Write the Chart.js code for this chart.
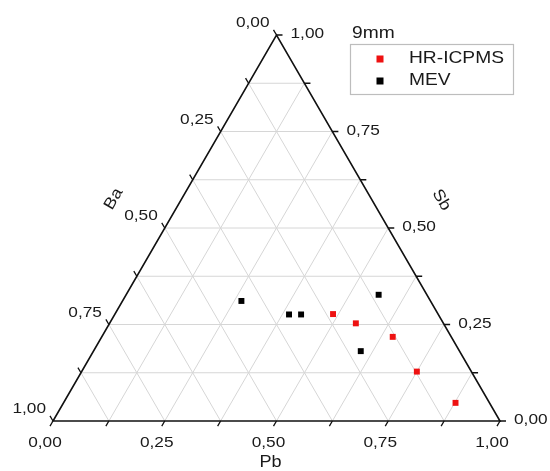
<!DOCTYPE html>
<html>
<head>
<meta charset="utf-8">
<script src="https://cdn.jsdelivr.net/npm/chart.js@4.4.0/dist/chart.umd.min.js"></script>
<style>
  html, body { margin: 0; padding: 0; background: #fff; }
  #wrap { width: 550px; height: 471px; }
</style>
</head>
<body>
<div id="wrap"><canvas id="ternary" width="550" height="471"></canvas></div>
<script>
// ternary compositions (Pb + Sb + Ba = 1)
const hrPb = [0.488, 0.551, 0.651, 0.750, 0.877];
const hrSb = [0.277, 0.253, 0.218, 0.128, 0.047];
const hrBa = [0.235, 0.196, 0.131, 0.122, 0.076];

const mevPb = [0.266, 0.390, 0.417, 0.565, 0.598];
const mevSb = [0.311, 0.276, 0.276, 0.327, 0.181];
const mevBa = [0.423, 0.334, 0.307, 0.108, 0.221];

const seriesNames = ["HR-ICPMS", "MEV"];
const legendTitle = "9mm";

// axis ticks
const majorTicks = [0, 0.25, 0.5, 0.75, 1];
const tickLabels = ["0,00", "0,25", "0,50", "0,75", "1,00"];
const minorTicks = [0.125, 0.375, 0.625, 0.875];
const gridSteps = [0.125, 0.25, 0.375, 0.5, 0.625, 0.75, 0.875];

// ternary -> cartesian (x along Pb axis, y = Sb height)
function toXY(pb, sb, ba) {
  const s = pb + sb + ba;
  pb /= s; sb /= s;
  return { x: pb + sb / 2, y: sb };
}

const hrPoints = hrPb.map((v, i) => toXY(v, hrSb[i], hrBa[i]));
const mevPoints = mevPb.map((v, i) => toXY(v, mevSb[i], mevBa[i]));

function txt(ctx, s, x, y, align, font, sx, rot) {
  ctx.save();
  ctx.translate(x, y);
  if (rot) ctx.rotate(rot);
  ctx.scale(sx, 1);
  ctx.font = font;
  ctx.textAlign = align;
  ctx.textBaseline = "middle";
  ctx.fillStyle = "#1a1a1a";
  ctx.fillText(s, 0, 0);
  ctx.restore();
}

const ternaryFrame = {
  id: "ternaryFrame",
  beforeDatasetsDraw(chart) {
    const ctx = chart.ctx;
    const xs = chart.scales.x, ys = chart.scales.y;
    const P = (pb, sb) => [xs.getPixelForValue(pb + sb / 2), ys.getPixelForValue(sb)];
    const line = (a, b) => { ctx.moveTo(a[0], a[1]); ctx.lineTo(b[0], b[1]); };

    ctx.save();
    // grid
    ctx.strokeStyle = "#d6d6d6";
    ctx.lineWidth = 1;
    ctx.beginPath();
    gridSteps.forEach(t => {
      line(P(0, t), P(1 - t, t));        // constant Sb
      line(P(t, 0), P(t, 1 - t));        // constant Pb
      line(P(1 - t, 0), P(0, 1 - t));    // constant Ba
    });
    ctx.stroke();
    ctx.restore();
  },
  afterDatasetsDraw(chart) {
    const ctx = chart.ctx;
    const xs = chart.scales.x, ys = chart.scales.y;
    const P = (pb, sb) => [xs.getPixelForValue(pb + sb / 2), ys.getPixelForValue(sb)];

    ctx.save();
    // triangle edges
    ctx.strokeStyle = "#111";
    ctx.lineWidth = 1.6;
    ctx.beginPath();
    const A = P(0, 0), B = P(1, 0), C = P(0, 1);
    ctx.moveTo(A[0], A[1]); ctx.lineTo(B[0], B[1]); ctx.lineTo(C[0], C[1]); ctx.closePath();
    ctx.stroke();

    // ticks
    const len = 6, c60 = Math.cos(Math.PI / 3), s60 = Math.sin(Math.PI / 3);
    ctx.lineWidth = 1.3;
    ctx.beginPath();
    majorTicks.concat(minorTicks).forEach(t => {
      let p = P(t, 0);                     // Pb axis (bottom)
      ctx.moveTo(p[0], p[1]); ctx.lineTo(p[0] - len * c60, p[1] + len * s60);
      p = P(1 - t, t);                     // Sb axis (right)
      ctx.moveTo(p[0], p[1]); ctx.lineTo(p[0] + len, p[1]);
      p = P(0, 1 - t);                     // Ba axis (left)
      ctx.moveTo(p[0], p[1]); ctx.lineTo(p[0] - len * c60, p[1] - len * s60);
    });
    ctx.stroke();

    // tick labels
    const tf = "15px 'Liberation Sans', Arial, sans-serif";
    majorTicks.forEach((t, i) => {
      let p = P(t, 0);
      txt(ctx, tickLabels[i], p[0] - 8, p[1] + 22, "center", tf, 1.15);
      p = P(1 - t, t);
      txt(ctx, tickLabels[i], p[0] + 14, p[1] - 1, "left", tf, 1.15);
      p = P(0, 1 - t);
      txt(ctx, tickLabels[i], p[0] - 7, p[1] - 12, "right", tf, 1.15);
    });

    // axis titles
    const af = "16px 'Liberation Sans', Arial, sans-serif";
    const pbMid = P(0.5, 0);
    txt(ctx, "Pb", pbMid[0] - 6, pbMid[1] + 42, "center", af, 1.13);
    const baMid = P(0, 0.5);
    txt(ctx, "Ba", baMid[0] - 51, baMid[1] - 29, "center", af, 1.13, -Math.PI / 3);
    const sbMid = P(0.5, 0.5);
    txt(ctx, "Sb", sbMid[0] + 53, sbMid[1] - 28, "center", af, 1.13, Math.PI / 3);

    // legend
    const lf = "17px 'Liberation Sans', Arial, sans-serif";
    txt(ctx, legendTitle, 352, 33, "left", lf, 1.13);
    ctx.strokeStyle = "#bdbdbd";
    ctx.lineWidth = 1.2;
    ctx.strokeRect(350.5, 44.5, 163, 50);
    chart.data.datasets.forEach((ds, i) => {
      const y = 59 + i * 22;
      ctx.fillStyle = ds.backgroundColor;
      ctx.fillRect(376.5, y - 3.5, 7, 7);
      txt(ctx, ds.label, 409, y - 1, "left", lf, 1.13);
    });
    ctx.restore();
  }
};

new Chart(document.getElementById("ternary"), {
  type: "scatter",
  data: {
    datasets: [
      {
        label: seriesNames[0],
        data: hrPoints,
        backgroundColor: "#ee1111",
        borderColor: "#ee1111",
        pointStyle: "rect",
        pointRadius: 4.2,
        borderWidth: 0
      },
      {
        label: seriesNames[1],
        data: mevPoints,
        backgroundColor: "#000000",
        borderColor: "#000000",
        pointStyle: "rect",
        pointRadius: 4.2,
        borderWidth: 0
      }
    ]
  },
  options: {
    responsive: false,
    animation: false,
    layout: { padding: 0, autoPadding: false },
    scales: {
      // canvas pixel 53 -> 0, 500 -> 1 ; pixel 421 -> 0, 35 -> 1
      x: { type: "linear", display: false, min: -53 / 447, max: 497 / 447 },
      y: { type: "linear", display: false, min: -50 / 386, max: 1 + 35 / 386 }
    },
    plugins: {
      legend: { display: false },
      tooltip: { enabled: false }
    }
  },
  plugins: [ternaryFrame]
});
</script>
</body>
</html>
